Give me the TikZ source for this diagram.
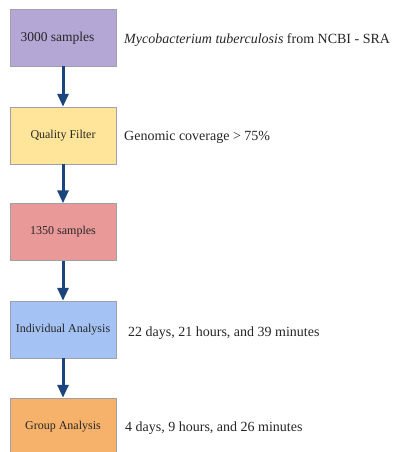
\documentclass[tikz,border=0pt]{standalone}
\usepackage{fontspec}
\setmainfont{Liberation Serif}
\usetikzlibrary{arrows.meta}
\definecolor{boxpurple}{RGB}{180,167,214}
\definecolor{boxyellow}{RGB}{255,229,153}
\definecolor{boxpink}{RGB}{234,153,153}
\definecolor{boxblue}{RGB}{164,194,244}
\definecolor{boxorange}{RGB}{246,178,107}
\definecolor{arrowblue}{RGB}{28,69,125}
\definecolor{edgegrey}{RGB}{160,160,170}
\tikzset{
  stage/.style={draw=edgegrey, line width=0.5pt, minimum width=106pt, minimum height=57pt,
    inner sep=0pt, font=\fontsize{12}{14}\selectfont, text=black!85},
  note/.style={anchor=west, inner sep=0pt, font=\fontsize{14}{17}\selectfont, text=black!85},
  flow/.style={draw=arrowblue, line width=3pt,
    -{Triangle[width=11pt,length=13pt]}, shorten >=0pt}
}
\begin{document}
\begin{tikzpicture}[x=1pt, y=-1pt]
  \useasboundingbox (0,0) rectangle (392,452);
  \fill[white] (0,0) rectangle (392,452);
  \begin{scope}
    \clip (0,0) rectangle (392,452);
    \node[stage, fill=boxpurple] (s1) at (63,37.5) {};
    \node[stage, fill=boxyellow] (s2) at (63,135.5) {Quality Filter};
    \node[stage, fill=boxpink]   (s3) at (63,232) {1350 samples};
    \node[stage, fill=boxblue]   (s4) at (63,329.5) {Individual Analysis};
    \node[stage, fill=boxorange] (s5) at (63,426.5) {Group Analysis};
  \end{scope}
  \node[inner sep=0pt, font=\fontsize{13.5}{16}\selectfont, text=black!85]
    (t1) at (57.5,38) {3000 samples};

  \node[note] (n1) at (124,40) {\textit{Mycobacterium tuberculosis} from NCBI - SRA};
  \node[note] (n2) at (124,137) {Genomic coverage > 75\%};
  \node[note] (n4) at (128,333) {22 days, 21 hours, and 39 minutes};
  \node[note] (n5) at (125,428) {4 days, 9 hours, and 26 minutes};

  \draw[flow] (s1.south) -- (s2.north);
  \draw[flow] (s2.south) -- (s3.north);
  \draw[flow] (s3.south) -- (s4.north);
  \draw[flow] (s4.south) -- (s5.north);
\end{tikzpicture}
\end{document}
